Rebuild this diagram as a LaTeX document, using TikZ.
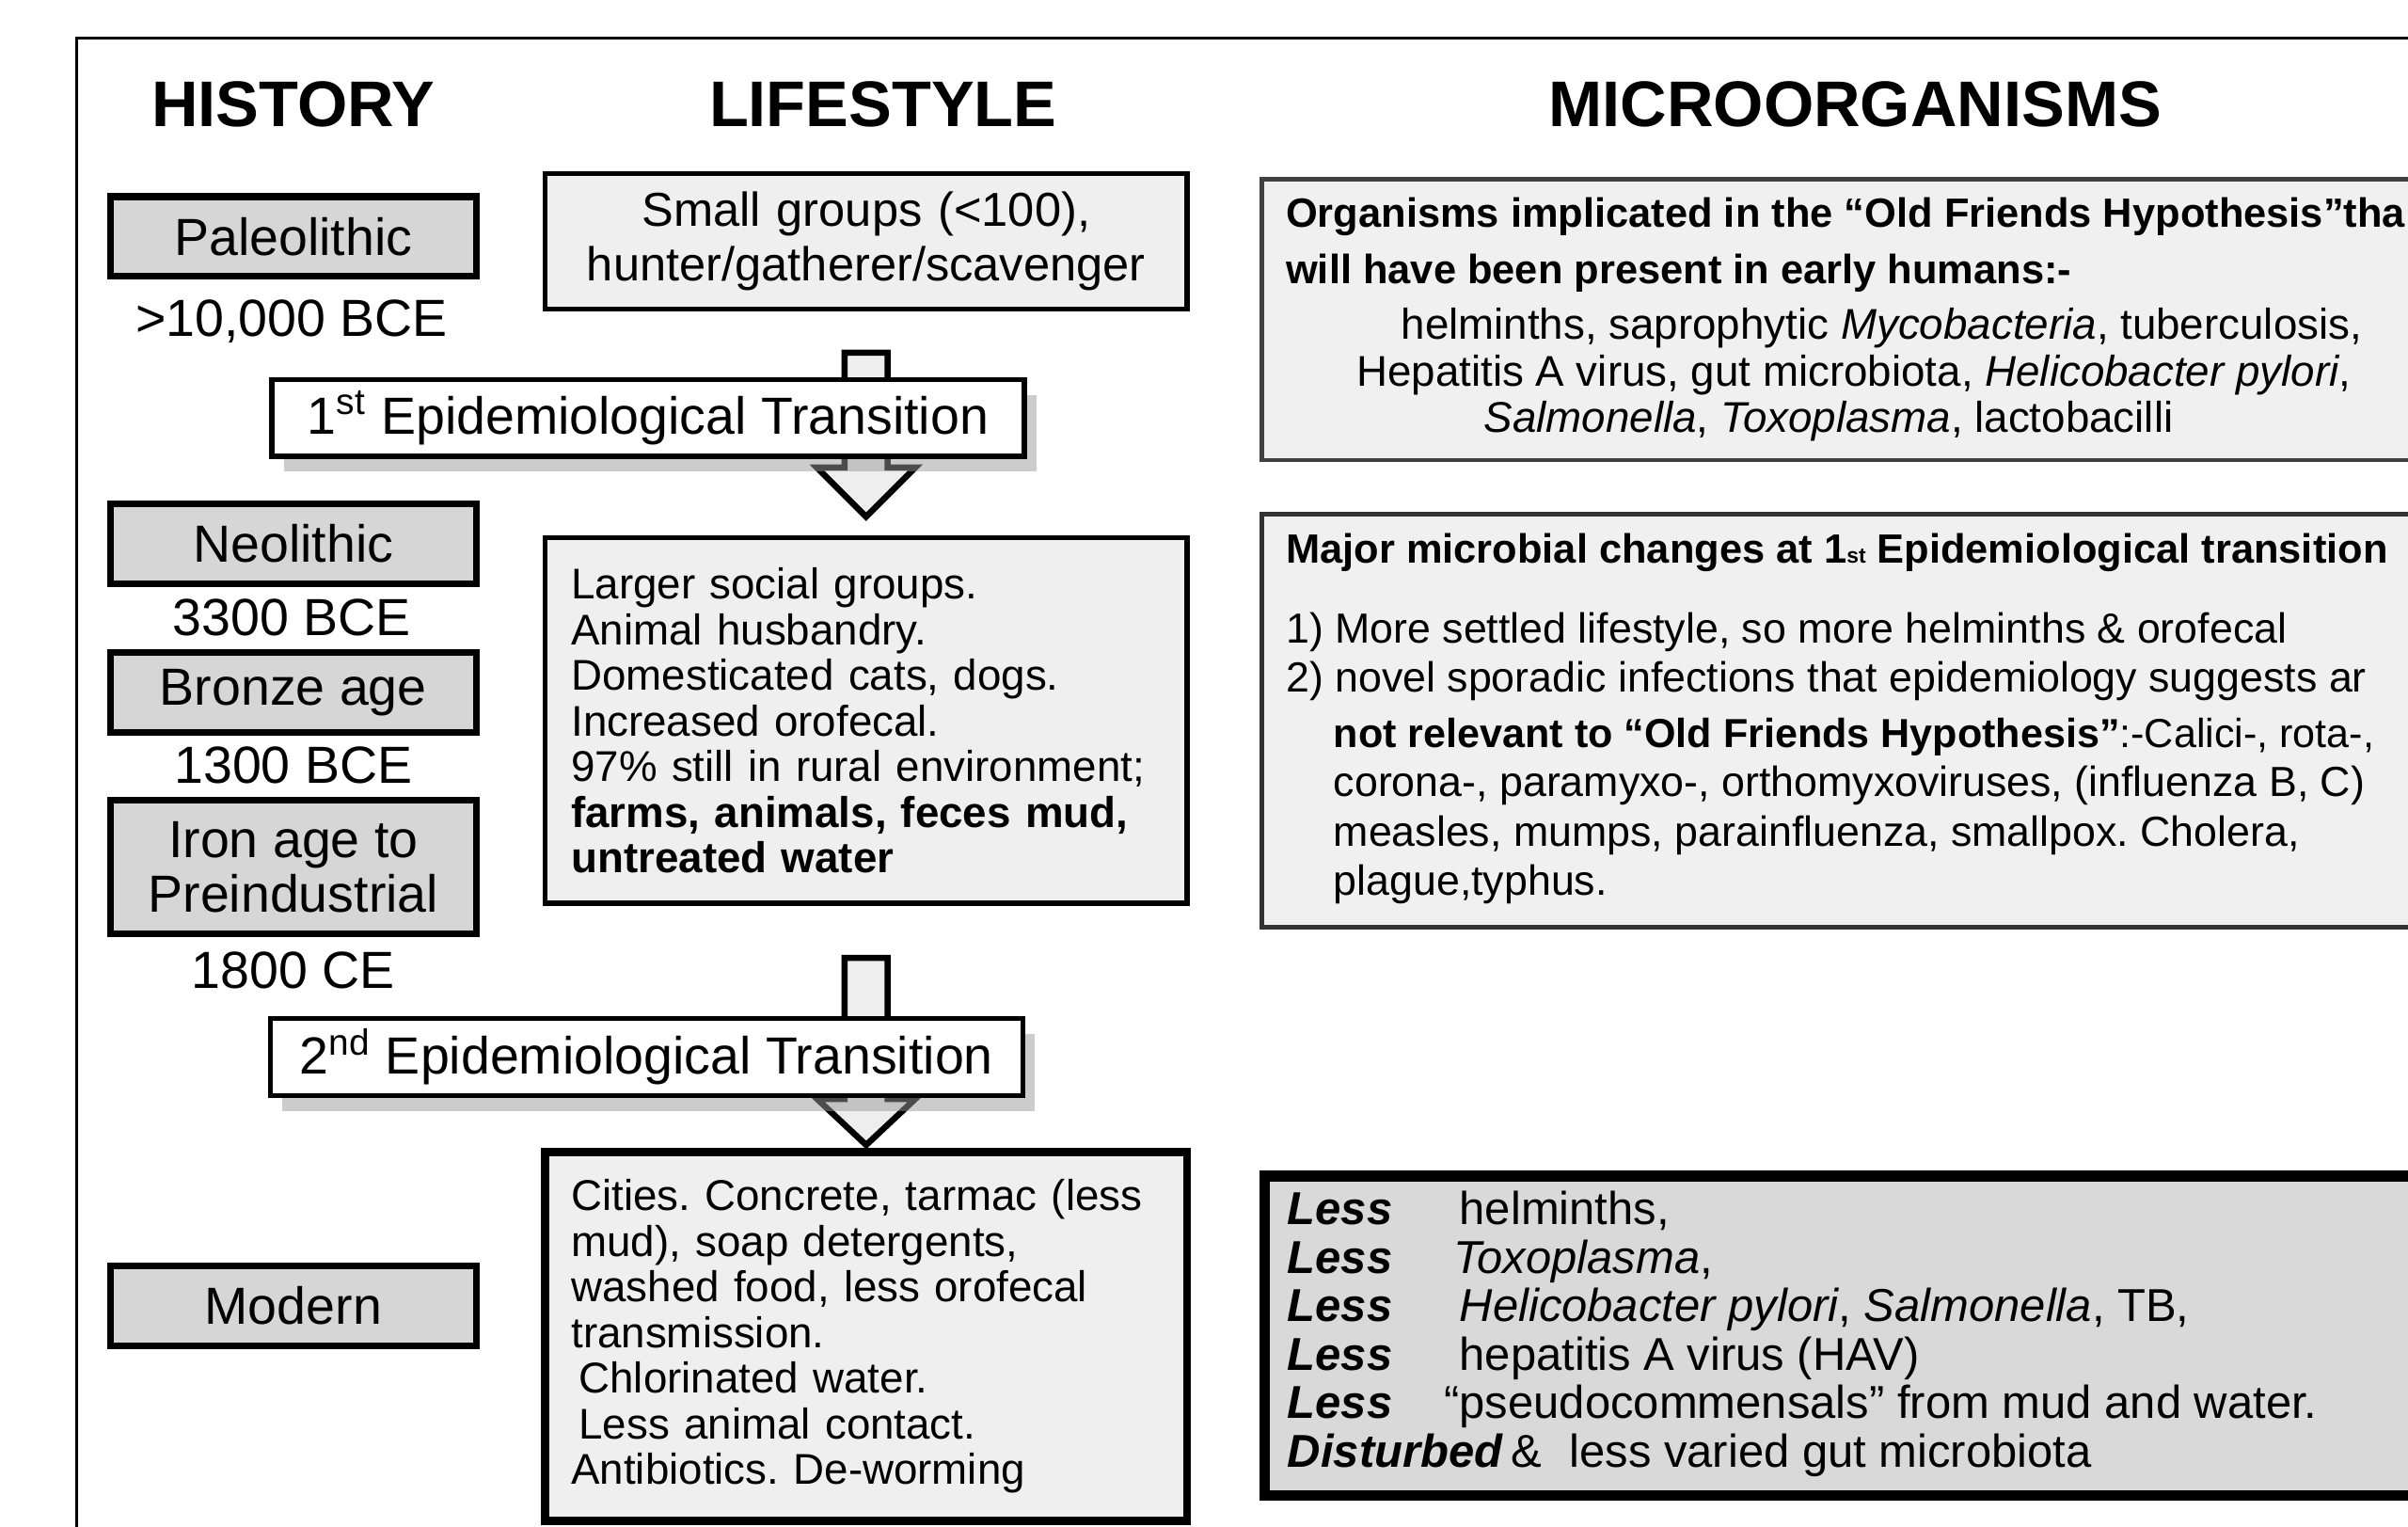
\documentclass[tikz,border=0pt]{standalone}
\usepackage{fontspec}
\setmainfont{Liberation Sans}
\usetikzlibrary{calc,shadows}
\definecolor{histgray}{HTML}{D6D6D6}
\definecolor{lifegray}{HTML}{EFEFEF}
\definecolor{microgray}{HTML}{F0F0F0}
\definecolor{lessgray}{HTML}{D9D9D9}
\definecolor{arrowgray}{HTML}{EEEEEE}
\frenchspacing

\begin{document}
\begin{tikzpicture}[x=0.5pt,y=0.5pt,
  heading/.style={font=\fontsize{21}{24}\selectfont\bfseries},
  histbox/.style={rectangle,draw,line width=2.2pt,fill=histgray,
    minimum width=119pt,minimum height=26pt,align=center,
    font=\fontsize{17}{17.5}\selectfont},
  datelabel/.style={font=\fontsize{17}{20}\selectfont},
  lifebox/.style={rectangle,draw,line width=1.6pt,fill=lifegray,
    text width=192pt,inner xsep=8.5pt,align=left,
    font=\fontsize{14}{14.85}\selectfont},
  transbox/.style={rectangle,draw,line width=1.6pt,fill=white,
    minimum width=245pt,minimum height=25pt,
    font=\fontsize{17}{20}\selectfont,
    drop shadow={shadow xshift=4pt,shadow yshift=-5pt,fill=black!40}},
  microbox/.style={rectangle,draw=black!75,line width=1.5pt,
    fill=microgray,anchor=north west,minimum width=390pt},
  microtext/.style={anchor=north west,align=left,inner sep=0pt},
  blockarr/.style={draw,line width=2pt,fill=arrowgray,line join=miter}]

  \useasboundingbox (0,0) rectangle (1568,-994);
  \clip (0,0) rectangle (1568,-994);

  % frame
  \draw[line width=1pt] (50,-994) -- (50,-25) -- (1568,-25);

  % column headings
  \node[heading] (hhist) at (191,-68) {HISTORY};
  \node[heading] (hlife) at (575,-68) {LIFESTYLE};
  \node[heading] (hmicro) at (1208,-68) {MICROORGANISMS};

  % history
  \node[histbox] (paleo) at (191,-154) {Paleolithic};
  \node[datelabel] (paleodate) at (190,-209) {>10,000 BCE};
  \node[histbox] (neo) at (191,-354) {Neolithic};
  \node[datelabel] (neodate) at (190,-402) {3300 BCE};
  \node[histbox] (bronze) at (191,-451) {Bronze age};
  \node[datelabel] (bronzedate) at (191,-498) {1300 BCE};
  \node[histbox,minimum height=43.5pt] (iron) at (191,-564.5) {Iron age to\\Preindustrial};
  \node[datelabel] (irondate) at (191,-632) {1800 CE};
  \node[histbox] (modern) at (191,-850) {Modern};

  % lifestyle
  \node[lifebox,align=center,minimum height=44pt,
    font=\fontsize{15.5}{18}\selectfont] (small) at (564,-157)
    {Small groups (<100),\\hunter/gatherer/scavenger};
  \node[lifebox,minimum height=119pt] (larger) at (564,-469)
    {Larger social groups.\\Animal husbandry.\\Domesticated cats, dogs.\\
     Increased orofecal.\\97\% still in rural environment;\\
     \textbf{farms, animals, feces mud,}\\\textbf{untreated water}};
  \node[lifebox,line width=2.6pt,minimum height=120pt] (cities) at (564,-870)
    {Cities. Concrete, tarmac (less\\mud), soap detergents,\\
     washed food, less orofecal\\transmission.\\
     \hspace*{2.5pt}Chlorinated water.\\\hspace*{2.5pt}Less animal contact.\\
     Antibiotics. De-worming};

  % block arrows
  \coordinate (a1from) at ([yshift=-13.5pt]small.south);
  \coordinate (a1to) at ([yshift=6pt]larger.north);
  \draw[blockarr] ($(a1from)+(-14,0)$) -- ($(a1to)+(-14,32)$)
    -- ($(a1to)+(-32,32)$) -- (a1to) -- ($(a1to)+(32,32)$)
    -- ($(a1to)+(14,32)$) -- ($(a1from)+(14,0)$) -- cycle;
  \coordinate (a2from) at ([yshift=-17pt]larger.south);
  \coordinate (a2to) at ([yshift=1pt]cities.north);
  \draw[blockarr] ($(a2from)+(-14,0)$) -- ($(a2to)+(-14,30)$)
    -- ($(a2to)+(-32,30)$) -- (a2to) -- ($(a2to)+(32,30)$)
    -- ($(a2to)+(14,30)$) -- ($(a2from)+(14,0)$) -- cycle;

  % transitions
  \node[transbox] (trans1) at (422,-272) {1\textsuperscript{st} Epidemiological Transition};
  \node[transbox] (trans2) at (421,-688) {2\textsuperscript{nd} Epidemiological Transition};

  % microorganisms
  \node[microbox,minimum height=91.5pt] (oldbox) at (820,-115) {};
  \node[microtext,font=\fontsize{14}{15.25}\selectfont] (oldtxt) at (837,-128)
    {\textbf{\fontsize{13.3}{15.25}\selectfont Organisms implicated in the “Old Friends Hypothesis”tha}\\[3.25pt]
     \textbf{\fontsize{13.3}{15.25}\selectfont will have been present in early humans:-}\\[2.75pt]
     \hspace*{37.5pt}helminths, saprophytic \textit{Mycobacteria}, tuberculosis,\\
     \hspace*{23pt}Hepatitis A virus, gut microbiota, \textit{Helicobacter pylori},\\
     \hspace*{64.5pt}\textit{Salmonella}, \textit{Toxoplasma}, lactobacilli};

  \node[microbox,draw=black!80,minimum height=134.5pt] (changebox) at (820,-333) {};
  \node[microtext,font=\fontsize{13.7}{16}\selectfont] (changetxt) at (837,-347)
    {\textbf{\fontsize{13.3}{16}\selectfont Major microbial changes at 1{\fontsize{7}{7}\selectfont st} Epidemiological transition}\\[10pt]
     1) More settled lifestyle, so more helminths \& orofecal\\
     2) novel sporadic infections that epidemiology suggests ar\\[2pt]
     \hspace*{15.5pt}{\fontsize{13.2}{16}\selectfont\textbf{not relevant to “Old Friends Hypothesis”}:-Calici-, rota-,}\\
     \hspace*{15.5pt}corona-, paramyxo-, orthomyxoviruses, (influenza B, C)\\
     \hspace*{15.5pt}measles, mumps, parainfluenza, smallpox. Cholera,\\
     \hspace*{15.5pt}plague,typhus.};

  \node[microbox,draw=black,line width=3.5pt,fill=lessgray,minimum height=104pt] (lessbox) at (820,-762) {};
  \node[microtext,font=\fontsize{15}{15.8}\selectfont] (lesstxt) at (838,-775)
    {\makebox[56pt][l]{\textbf{\textit{Less}}}helminths,\\
     \makebox[54pt][l]{\textbf{\textit{Less}}}\textit{Toxoplasma},\\
     \makebox[56pt][l]{\textbf{\textit{Less}}}\textit{Helicobacter pylori}, \textit{Salmonella}, TB,\\
     \makebox[56pt][l]{\textbf{\textit{Less}}}hepatitis A virus (HAV)\\
     \makebox[51pt][l]{\textbf{\textit{Less}}}“pseudocommensals” from mud and water.\\
     \textbf{\textit{Disturbed}}\,\&\hspace{9pt}less varied gut microbiota};
\end{tikzpicture}
\end{document}
